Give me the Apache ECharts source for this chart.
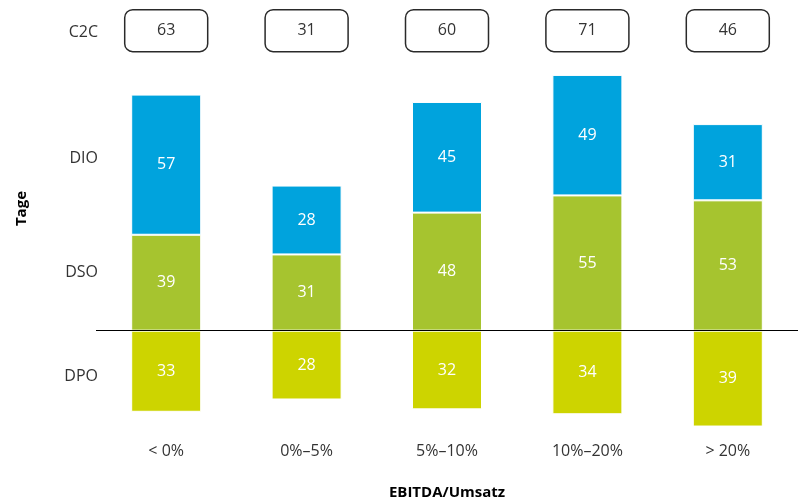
<!DOCTYPE html>
<html>
<head>
<meta charset="utf-8">
<script src="https://cdn.jsdelivr.net/npm/echarts@6/dist/echarts.min.js"></script>
<style>html,body{margin:0;padding:0;background:#fff}#c{width:801px;height:501px}</style>
</head>
<body>
<div id="c"></div>
<script>
const categories = ['< 0%', '0%\u20135%', '5%\u201310%', '10%\u201320%', '> 20%'];
const dpo = [-33, -28, -32, -34, -39];
const dso = [39, 31, 48, 55, 53];
const dio = [57, 28, 45, 49, 31];
const c2c = [63, 31, 60, 71, 46];
const rowLabels = ['C2C', 'DIO', 'DSO', 'DPO'];
const yAxisName = 'Tage';
const xAxisName = 'EBITDA/Umsatz';

const FONT = "'Open Sans', 'Noto Sans', sans-serif";
const TXT = '#333333';
const C2C_LEVEL = 122;

const chart = echarts.init(document.getElementById('c'), null, {renderer: 'canvas'});

const barLabel = {
  show: true, position: 'inside', color: '#ffffff', fontSize: 16, fontFamily: FONT,
  formatter: p => String(Math.abs(p.value))
};
const itemStyle = c => ({color: c, borderColor: '#ffffff', borderWidth: 1});

const rowY = [31, 157, 271, 375];

chart.setOption({
  animation: false,
  grid: {left: 96, right: 3, top: 11, height: 418, outerBoundsMode: 'none', containLabel: false},
  xAxis: {
    type: 'category', data: categories,
    axisLine: {show: false}, axisTick: {show: false},
    axisLabel: {color: TXT, fontSize: 16, fontFamily: FONT, margin: 14},
    name: xAxisName, nameLocation: 'middle', nameGap: 56,
    nameTextStyle: {color: '#000', fontSize: 15, fontWeight: 'bold', fontFamily: FONT}
  },
  yAxis: {
    type: 'value', min: -40, max: 130,
    show: false
  },
  graphic: [
    ...rowLabels.map((t, i) => ({
      type: 'text', right: 801 - 98, top: rowY[i] - 7,
      style: {text: t, fill: TXT, fontSize: 16, fontFamily: FONT}
    })),
    {
      type: 'text', left: 14, top: 191, rotation: Math.PI / 2,
      style: {text: yAxisName, fill: '#000', fontSize: 15, fontWeight: 'bold', fontFamily: FONT}
    }
  ],
  series: [
    {
      name: 'DPO', type: 'bar', stack: 's', data: dpo, barWidth: 70,
      itemStyle: itemStyle('#CDD400'), label: barLabel,
      markLine: {
        silent: true, symbol: 'none', label: {show: false},
        lineStyle: {color: '#000', width: 1, type: 'solid'},
        data: [{yAxis: 0}]
      }
    },
    {name: 'DSO', type: 'bar', stack: 's', data: dso, barWidth: 70, itemStyle: itemStyle('#A6C42F'), label: barLabel},
    {name: 'DIO', type: 'bar', stack: 's', data: dio, barWidth: 70, itemStyle: itemStyle('#00A3DD'), label: barLabel},
    {
      name: 'C2C', type: 'custom',
      data: c2c.map((v, i) => [i, C2C_LEVEL, v]),
      renderItem: (params, api) => {
        const p = api.coord([api.value(0), api.value(1)]);
        const w = 83, h = 42;
        return {
          type: 'group',
          children: [
            {type: 'rect', shape: {x: p[0] - w / 2, y: p[1] - h / 2, width: w, height: h, r: 8},
             style: {fill: '#fff', stroke: '#2a2a2a', lineWidth: 1.5}},
            {type: 'text', style: {text: String(api.value(2)), x: p[0], y: p[1], align: 'center',
             verticalAlign: 'middle', fill: TXT, fontSize: 16, fontFamily: FONT}}
          ]
        };
      }
    }
  ]
});
</script>
</body>
</html>
